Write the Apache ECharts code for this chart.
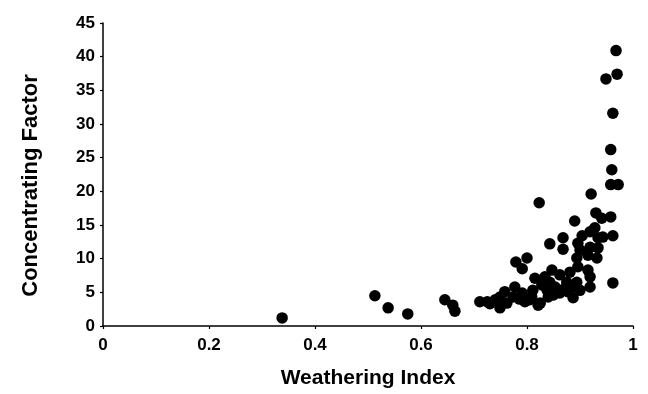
<!DOCTYPE html>
<html>
<head>
<meta charset="utf-8">
<script src="https://cdn.jsdelivr.net/npm/echarts@6/dist/echarts.min.js"></script>
<style>
  html, body { margin: 0; padding: 0; background: #fff; }
  #chart { width: 648px; height: 394px; }
</style>
</head>
<body>
<div id="chart"></div>
<script>
// Weathering index (x) and concentrating factor (y)
const weatheringIndex = [
  0.338, 0.513, 0.538, 0.575, 0.645, 0.660, 0.664, 0.711, 0.725, 0.730,
  0.740, 0.749, 0.749, 0.758, 0.762, 0.774, 0.777, 0.779, 0.786, 0.791,
  0.791, 0.796, 0.800, 0.805, 0.809, 0.811, 0.815, 0.821, 0.823, 0.825,
  0.828, 0.834, 0.838, 0.840, 0.843, 0.843, 0.847, 0.850, 0.853, 0.862,
  0.862, 0.868, 0.868, 0.870, 0.875, 0.877, 0.881, 0.887, 0.887, 0.890,
  0.894, 0.894, 0.896, 0.896, 0.900, 0.900, 0.904, 0.915, 0.915, 0.919,
  0.919, 0.919, 0.919, 0.921, 0.928, 0.930, 0.932, 0.934, 0.934, 0.941,
  0.943, 0.949, 0.958, 0.958, 0.958, 0.960, 0.962, 0.962, 0.962, 0.968,
  0.970, 0.972
];
const concentratingFactor = [
  1.2, 4.5, 2.7, 1.8, 3.9, 3.1, 2.2, 3.6, 3.6, 3.3,
  3.9, 4.3, 2.7, 5.1, 3.4, 4.3, 5.8, 9.5, 4.0, 8.5,
  4.9, 3.6, 10.1, 3.9, 4.3, 5.3, 7.1, 3.1, 18.3, 3.4,
  6.1, 7.3, 5.3, 4.3, 12.2, 6.5, 8.3, 4.6, 5.8, 7.6,
  4.9, 13.1, 11.4, 5.5, 6.5, 5.1, 8.0, 5.8, 4.2, 15.6,
  10.1, 6.5, 12.3, 8.8, 11.3, 5.3, 13.4, 10.5, 8.3, 14.0,
  11.7, 7.3, 5.8, 19.6, 14.6, 16.8, 10.1, 13.1, 11.6, 16.0,
  13.2, 36.7, 16.2, 26.2, 21.0, 23.2, 31.6, 13.4, 6.4, 40.9,
  37.4, 21.0
];
const xTicks = { min: 0, max: 1, interval: 0.2 };
const yTicks = { min: 0, max: 45, interval: 5 };

const points = weatheringIndex.map((x, i) => [x, concentratingFactor[i]]);

const chart = echarts.init(document.getElementById('chart'));

const axisText = {
  color: '#000',
  fontFamily: 'Liberation Sans',
  fontWeight: 'bold',
  fontSize: 17
};

chart.setOption({
  animation: false,
  grid: { left: 103, right: 15, top: 23, bottom: 68 },
  xAxis: {
    type: 'value',
    min: xTicks.min,
    max: xTicks.max,
    interval: xTicks.interval,
    name: 'Weathering Index',
    nameLocation: 'middle',
    nameGap: 42,
    nameTextStyle: { color: '#000', fontFamily: 'Liberation Sans', fontWeight: 'bold', fontSize: 21 },
    axisLine: { show: true, lineStyle: { color: '#000', width: 1.5 } },
    axisTick: { show: true, length: 3, lineStyle: { color: '#000', width: 1.2 } },
    axisLabel: Object.assign({ margin: 11 }, axisText),
    splitLine: { show: false }
  },
  yAxis: {
    type: 'value',
    min: yTicks.min,
    max: yTicks.max,
    interval: yTicks.interval,
    name: 'Concentrating Factor',
    nameLocation: 'middle',
    nameGap: 61,
    nameRotate: 90,
    nameTextStyle: {
      color: '#000', fontFamily: 'Liberation Sans', fontWeight: 'bold', fontSize: 22,
      padding: [0, 22, 0, 0] // nudge the rotated title a little lower, like the original
    },
    axisLine: { show: true, lineStyle: { color: '#000', width: 1.5 } },
    axisTick: { show: true, length: 3, lineStyle: { color: '#000', width: 1.2 } },
    axisLabel: Object.assign({ margin: 8 }, axisText),
    splitLine: { show: false }
  },
  series: [
    {
      type: 'scatter',
      data: points,
      symbol: 'circle',
      symbolSize: 11.5,
      itemStyle: { color: '#000', opacity: 1 }
    }
  ]
});
</script>
</body>
</html>
